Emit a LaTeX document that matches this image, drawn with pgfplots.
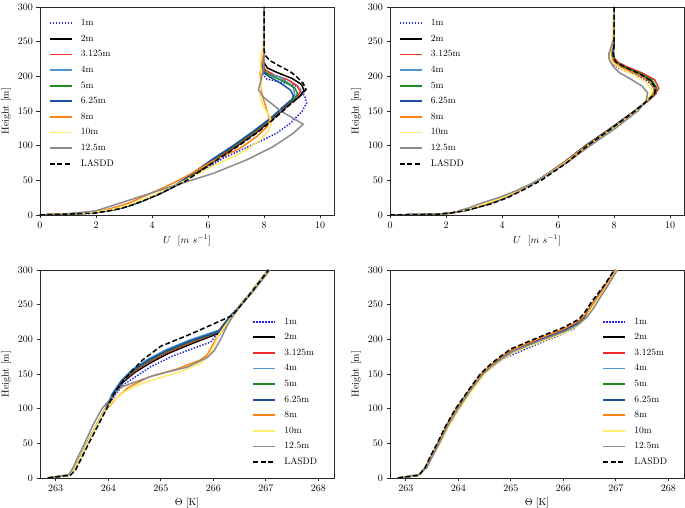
\documentclass[border=0pt]{standalone}
\usepackage{pgfplots}
\pgfplotsset{compat=1.18}

\definecolor{c1}{RGB}{35,35,225}
\definecolor{c3}{RGB}{235,45,45}
\definecolor{c4}{RGB}{80,150,210}
\definecolor{c5}{RGB}{30,140,30}
\definecolor{c6}{RGB}{30,80,160}
\definecolor{c8}{RGB}{255,130,20}
\definecolor{c10}{RGB}{255,235,110}
\definecolor{c12}{RGB}{140,140,140}
\definecolor{frame}{RGB}{40,40,40}

\tikzset{
  s1/.style={c1, dash pattern=on 1.4pt off 1.6pt},
  s2/.style={black},
  s3/.style={c3},
  s4/.style={c4},
  s5/.style={c5},
  s6/.style={c6},
  s8/.style={c8},
  s10/.style={c10},
  s12/.style={c12},
  sL/.style={black, dash pattern=on 5pt off 2.5pt},
}

\pgfplotsset{
  panel/.style={
    scale only axis, width=294pt, height=208pt,
    ymin=0, ymax=300, ytick={0,50,...,300},
    tick pos=left, tick align=outside,
    major tick length=3.5pt,
    tick style={frame, line width=0.6pt},
    axis line style={frame, line width=0.6pt},
    every axis plot/.append style={line width=1.5pt},
    ylabel={Height [m]},
    ticklabel style={font=\fontsize{10}{12}\selectfont},
    label style={font=\fontsize{10}{12}\selectfont},
    legend cell align=left,
    legend image code/.code={\path[draw=none, fill=none] (0pt,0pt) -- (29pt,0pt);
      \draw[##1, line width=1.8pt] (0pt,0pt) -- (11pt,0pt) -- (22pt,0pt);},
    legend style={draw=none, fill=none, inner sep=0pt,
      font=\fontsize{9.5}{11}\selectfont,
      nodes={text height=7.2pt, text depth=2.3pt},
      row sep=2.1pt},
  },
  uax/.style={panel, xmin=0, xmax=10.5, xtick={0,2,...,10},
    xlabel={$U$\ \ $[m\ s^{-1}]$},
    legend style={at={(0.03,0.955)}, anchor=north west}},
  tax/.style={panel, xmin=262.7, xmax=268.3, xtick={263,...,268},
    xlabel={$\Theta$ [K]},
    legend style={at={(0.722,0.785)}, anchor=north west}},
}

\begin{document}
\begin{tikzpicture}

% ---------- top left ----------
\begin{axis}[uax, at={(40pt,293pt)}, anchor=south west]
\addplot[s1] coordinates {(0,0)(1.9,3)(2.4,6)(2.9,10)(3.3,15)(3.7,21)(4.25,30)(4.75,40)(5.2,50)(5.6,60)(6.05,70)(6.55,82)(7.2,94)(7.95,108)(8.45,118)(8.93,132)(9.35,149)(9.52,161)(9.46,171)(9.3,181)(9.1,187)(8.57,192)(8.1,196)(7.98,202)(8.0,210)(8.0,300)};
\addplot[s2] coordinates {(0,0)(1.9,3)(2.4,6)(2.9,10)(3.3,15)(3.7,21)(4.25,30)(4.75,40)(5.2,50)(5.55,60)(6.3,80)(7.05,100)(7.75,120)(8.35,140)(8.9,160)(9.25,170)(9.43,179)(9.35,188)(9.0,197)(8.5,205)(8.12,212)(8.0,220)(8.0,300)};
\addplot[s3] coordinates {(0,0)(1.9,3)(2.4,6)(2.9,10)(3.3,15)(3.7,21)(4.2,30)(4.7,40)(5.15,50)(5.5,60)(6.25,80)(7.0,100)(7.7,120)(8.3,140)(8.85,160)(9.15,169)(9.3,178)(9.2,186)(8.85,195)(8.35,202)(8.05,209)(7.98,215)(8.0,222)(8.0,300)};
\addplot[s4] coordinates {(0,0)(1.9,3)(2.4,6)(2.9,10)(3.3,15)(3.7,21)(4.2,30)(4.7,40)(5.1,50)(5.45,60)(6.15,80)(6.9,100)(7.6,120)(8.25,140)(8.8,160)(9.05,167)(9.1,173)(9.04,185)(8.57,199)(8.04,204)(7.92,212)(7.92,219)(8.0,226)(8.0,300)};
\addplot[s5] coordinates {(0,0)(1.9,3)(2.4,6)(2.9,10)(3.3,15)(3.7,21)(4.2,30)(4.7,40)(5.12,50)(5.48,60)(6.2,80)(6.95,100)(7.65,120)(8.28,140)(8.82,160)(9.1,168)(9.2,175)(9.1,183)(8.75,192)(8.3,200)(8.05,206)(7.95,213)(7.97,220)(8.0,226)(8.0,300)};
\addplot[s6] coordinates {(0,0)(1.9,3)(2.4,6)(2.9,10)(3.3,15)(3.7,21)(4.2,30)(4.7,40)(5.1,50)(5.45,60)(6.15,80)(6.9,100)(7.6,120)(8.25,140)(8.8,160)(9.0,167)(9.05,172)(8.95,180)(8.6,190)(8.2,199)(7.97,206)(7.92,213)(7.97,220)(8.0,226)(8.0,300)};
\addplot[s8] coordinates {(0,0)(1.8,3.5)(2.3,7)(2.75,12)(3.15,17)(3.55,24)(4.05,33)(4.55,42)(5.0,51)(5.5,62)(6.1,76)(6.6,86)(7.14,96)(7.74,113)(8.1,127)(8.21,137)(8.1,151)(7.92,175)(7.86,204)(7.98,233)(8.0,300)};
\addplot[s10] coordinates {(0,0)(1.8,3)(2.3,6)(2.8,10)(3.2,15)(3.6,21)(4.15,30)(4.65,40)(5.2,50)(5.65,60)(6.2,71)(6.79,82)(7.38,94)(7.86,108)(8.15,120)(8.27,132)(8.21,142)(7.98,156)(7.86,171)(7.92,195)(7.86,224)(7.95,240)(8.0,255)(8.0,300)};
\addplot[s12] coordinates {(0,0)(0.95,1.4)(2.0,6)(2.62,14)(3.0,19)(3.57,26.5)(4.5,38.5)(5.24,48)(6.19,60)(7.38,79.5)(8.33,98.7)(9.05,118)(9.4,131)(8.6,150)(7.98,170)(7.8,181)(7.9,195)(7.97,210)(8.0,222)(8.0,300)};
\addplot[sL] coordinates {(0,0)(1.9,2.5)(2.4,5.5)(2.9,9.5)(3.3,14.5)(3.7,20.5)(4.25,30)(4.75,40)(5.25,50)(5.6,60)(6.35,80)(7.1,100)(7.8,120)(8.4,140)(8.95,160)(9.3,172)(9.5,181)(9.4,190)(9.15,200)(8.93,207)(8.55,215)(8.2,223)(8.05,230)(8.0,238)(8.0,300)};
\legend{1m,2m,3.125m,4m,5m,6.25m,8m,10m,12.5m,LASDD}
\end{axis}

% ---------- top right ----------
\begin{axis}[uax, at={(390pt,293pt)}, anchor=south west]
\addplot[s1] coordinates {(0,0)(1.7,1)(2.2,3)(2.6,6)(3.0,10)(3.5,16)(4.1,25)(4.6,35)(5.3,50)(6.2,75)(7.0,100)(7.9,125)(8.75,150)(9.2,165)(9.5,175)(9.5,182)(9.2,193)(8.7,203)(8.2,211)(7.95,218)(7.98,230)(8.0,245)(8.0,300)};
\addplot[s2] coordinates {(0,0)(1.7,1)(2.2,3)(2.6,6)(3.0,10)(3.5,16)(4.1,25)(4.6,35)(5.3,50)(6.2,75)(7.0,100)(7.9,125)(8.75,150)(9.2,165)(9.45,175)(9.5,184)(9.3,195)(8.85,205)(8.3,214)(8.0,222)(7.95,232)(8.0,245)(8.0,300)};
\addplot[s3] coordinates {(0,0)(1.7,1)(2.2,3)(2.6,6)(3.0,10)(3.5,16)(4.1,25)(4.6,35)(5.3,50)(6.2,75)(7.0,100)(7.9,125)(8.75,150)(9.2,164)(9.45,173)(9.6,183)(9.45,195)(9.0,205)(8.5,213)(8.15,220)(7.98,228)(7.97,240)(8.0,252)(8.0,300)};
\addplot[s4] coordinates {(0,0)(1.7,1)(2.2,3)(2.6,6)(3.0,10)(3.5,16)(4.1,25)(4.6,35)(5.3,50)(6.2,75)(6.98,100)(7.88,125)(8.73,150)(9.18,165)(9.4,174)(9.45,182)(9.25,194)(8.8,204)(8.3,212)(8.0,220)(7.93,230)(7.98,245)(8.0,300)};
\addplot[s5] coordinates {(0,0)(1.7,1)(2.2,3)(2.6,6)(3.0,10)(3.5,16)(4.1,25)(4.6,35)(5.3,50)(6.2,75)(7.0,100)(7.9,125)(8.75,150)(9.2,165)(9.45,174)(9.52,183)(9.35,195)(8.9,205)(8.4,213)(8.05,221)(7.95,231)(7.98,245)(8.0,300)};
\addplot[s6] coordinates {(0,0)(1.7,1)(2.2,3)(2.6,6)(3.0,10)(3.5,16)(4.1,25)(4.6,35)(5.28,50)(6.18,75)(6.98,100)(7.88,125)(8.73,150)(9.18,165)(9.4,174)(9.45,182)(9.25,194)(8.8,204)(8.3,212)(8.0,220)(7.93,230)(7.98,245)(8.0,300)};
\addplot[s8] coordinates {(0,0)(1.8,1)(2.25,3)(2.6,6)(2.95,10)(3.45,16)(4.05,25)(4.6,35)(5.3,50)(6.2,75)(7.02,100)(7.92,125)(8.75,150)(9.2,165)(9.4,175)(9.45,183)(9.25,194)(8.8,204)(8.3,212)(7.98,221)(7.88,232)(7.95,245)(8.0,300)};
\addplot[s10] coordinates {(0,0)(1.85,1)(2.3,3)(2.55,6)(2.9,10)(3.35,16)(4.0,25)(4.55,35)(5.3,50)(6.25,75)(7.1,100)(8.0,125)(8.8,150)(9.15,165)(9.3,173)(9.35,181)(9.1,193)(8.65,203)(8.2,212)(7.92,221)(7.85,232)(7.93,248)(8.0,300)};
\addplot[s12] coordinates {(0,0)(1.9,1)(2.4,4)(2.45,6)(2.8,10)(3.25,17)(3.95,26)(4.5,35)(5.3,50)(6.3,75)(7.15,100)(8.05,125)(8.85,150)(9.15,165)(9.2,176)(9.0,186)(8.6,196)(8.2,205)(7.95,215)(7.82,225)(7.82,233)(7.92,245)(8.0,255)(8.0,300)};
\addplot[sL] coordinates {(0,0)(1.7,1)(2.2,3)(2.65,6)(3.05,10)(3.6,16)(4.2,25)(4.7,35)(5.4,50)(6.3,75)(7.05,100)(7.92,125)(8.75,150)(9.2,165)(9.45,175)(9.48,183)(9.3,194)(8.9,204)(8.4,213)(8.05,221)(7.98,232)(8.0,245)(8.0,300)};
\legend{1m,2m,3.125m,4m,5m,6.25m,8m,10m,12.5m,LASDD}
\end{axis}

% ---------- bottom left ----------
\begin{axis}[tax, at={(40pt,30pt)}, anchor=south west]
\addplot[s1] coordinates {(262.85,0)(263.0,1.5)(263.25,4)(263.35,12)(263.45,27)(263.6,50)(263.77,75)(263.95,100)(264.05,110)(264.15,122)(264.3,135)(264.5,145)(264.8,160)(265.2,175)(265.55,185)(265.95,196)(266.1,210)(266.25,226)(266.4,240)(266.7,265)(267.05,300)};
\addplot[s2] coordinates {(262.85,0)(263.0,1.5)(263.25,4)(263.35,12)(263.45,27)(263.6,50)(263.77,75)(263.95,100)(264.1,120)(264.28,138)(264.5,152)(264.8,166)(265.15,180)(265.6,194)(266.08,208)(266.2,220)(266.35,234)(266.42,240)(266.72,268)(267.05,300)};
\addplot[s3] coordinates {(262.85,0)(263.0,1.5)(263.25,4)(263.35,12)(263.45,27)(263.6,50)(263.77,75)(263.95,100)(264.1,121)(264.27,139)(264.48,153)(264.78,168)(265.15,182)(265.6,196)(266.08,210)(266.2,222)(266.35,235)(266.42,240)(266.72,268)(267.05,300)};
\addplot[s4] coordinates {(262.85,0)(263.0,1.5)(263.25,4)(263.35,12)(263.45,27)(263.6,50)(263.77,75)(263.95,100)(264.08,122)(264.25,141)(264.45,156)(264.75,171)(265.1,185)(265.55,199)(266.14,214)(266.25,225)(266.35,236)(266.42,241)(266.72,268)(267.05,300)};
\addplot[s5] coordinates {(262.85,0)(263.0,1.5)(263.25,4)(263.35,12)(263.45,27)(263.6,50)(263.77,75)(263.95,100)(264.1,121)(264.27,140)(264.47,154)(264.77,169)(265.13,183)(265.58,197)(266.1,211)(266.22,223)(266.35,235)(266.42,240)(266.72,268)(267.05,300)};
\addplot[s6] coordinates {(262.85,0)(263.0,1.5)(263.25,4)(263.35,12)(263.45,27)(263.6,50)(263.77,75)(263.95,100)(264.08,121)(264.26,140)(264.46,155)(264.76,170)(265.12,184)(265.57,198)(266.12,212)(266.23,224)(266.35,235)(266.42,240)(266.72,268)(267.05,300)};
\addplot[s8] coordinates {(262.85,0)(263.0,1.5)(263.25,4)(263.35,12)(263.45,27)(263.6,50)(263.77,75)(263.92,95)(264.0,102)(264.15,115)(264.37,130)(264.75,145)(265.3,157)(265.75,170)(265.88,177)(266.05,200)(266.25,220)(266.4,236)(266.72,268)(267.05,300)};
\addplot[s10] coordinates {(262.85,0)(263.0,1.5)(263.25,4)(263.35,12)(263.45,27)(263.6,50)(263.77,75)(263.95,100)(264.1,112)(264.3,124)(264.6,135)(265.0,145)(265.4,154)(265.75,165)(265.9,175)(266.02,192)(266.12,208)(266.25,222)(266.4,238)(266.72,268)(267.05,300)};
\addplot[s12] coordinates {(262.85,0)(263.0,2)(263.25,5)(263.33,15)(263.42,30)(263.55,50)(263.7,75)(263.88,100)(264.05,115)(264.24,131)(264.87,148)(265.51,160)(265.89,174)(266.02,184)(266.14,200)(266.28,222)(266.42,240)(266.75,268)(267.08,300)};
\addplot[sL] coordinates {(262.85,0)(263.0,1.5)(263.28,4)(263.38,12)(263.48,27)(263.63,50)(263.8,75)(263.97,100)(264.1,120)(264.25,137)(264.4,150)(264.65,170)(265.0,190)(265.55,207)(266.0,222)(266.35,234)(266.45,242)(266.75,270)(267.05,300)};
\legend{1m,2m,3.125m,4m,5m,6.25m,8m,10m,12.5m,LASDD}
\end{axis}

% ---------- bottom right ----------
\begin{axis}[tax, at={(390pt,30pt)}, anchor=south west]
\addplot[s1] coordinates {(262.85,0)(263.0,1.5)(263.25,4)(263.38,15)(263.48,30)(263.62,50)(263.78,75)(263.97,100)(264.2,125)(264.45,148)(264.65,160)(264.85,172)(265.1,180)(265.5,193)(265.9,205)(266.2,215)(266.35,228)(266.5,245)(266.62,258)(266.78,275)(267.0,300)};
\addplot[s2] coordinates {(262.85,0)(263.0,1.5)(263.25,4)(263.38,15)(263.48,30)(263.62,50)(263.78,75)(263.97,100)(264.2,125)(264.45,150)(264.62,162)(264.8,172)(265.0,182)(265.5,198)(266.0,212)(266.25,222)(266.4,232)(266.5,245)(266.62,258)(266.78,275)(267.0,300)};
\addplot[s3] coordinates {(262.85,0)(263.0,1.5)(263.25,4)(263.38,15)(263.48,30)(263.62,50)(263.78,75)(263.97,100)(264.2,125)(264.45,150)(264.62,162)(264.8,172)(265.0,183)(265.5,199)(266.0,213)(266.25,223)(266.4,233)(266.5,245)(266.62,258)(266.78,275)(267.0,300)};
\addplot[s4] coordinates {(262.85,0)(263.0,1.5)(263.25,4)(263.38,15)(263.48,30)(263.62,50)(263.78,75)(263.97,100)(264.2,125)(264.45,150)(264.62,162)(264.8,172)(265.0,182)(265.5,197)(266.0,211)(266.25,221)(266.4,232)(266.5,245)(266.63,258)(266.79,275)(267.0,300)};
\addplot[s5] coordinates {(262.85,0)(263.0,1.5)(263.25,4)(263.38,15)(263.48,30)(263.62,50)(263.78,75)(263.97,100)(264.2,125)(264.45,150)(264.62,162)(264.8,172)(265.0,182)(265.5,198)(266.0,212)(266.25,222)(266.4,232)(266.5,245)(266.62,258)(266.78,275)(267.0,300)};
\addplot[s6] coordinates {(262.85,0)(263.0,1.5)(263.25,4)(263.38,15)(263.48,30)(263.62,50)(263.78,75)(263.97,100)(264.2,125)(264.45,150)(264.62,162)(264.8,172)(265.0,182)(265.5,198)(266.0,212)(266.25,222)(266.4,232)(266.5,245)(266.62,258)(266.78,275)(267.0,300)};
\addplot[s8] coordinates {(262.85,0)(263.0,1.5)(263.25,4)(263.38,15)(263.48,30)(263.62,50)(263.78,75)(263.97,100)(264.2,125)(264.45,151)(264.62,163)(264.8,174)(265.0,184)(265.5,200)(266.0,215)(266.3,227)(266.45,238)(266.55,250)(266.7,265)(266.85,282)(267.0,300)};
\addplot[s10] coordinates {(262.85,0)(263.0,1.5)(263.25,4)(263.4,15)(263.5,30)(263.65,50)(263.82,75)(264.02,100)(264.25,125)(264.5,150)(264.68,162)(264.85,172)(265.05,181)(265.55,196)(266.05,210)(266.3,221)(266.45,232)(266.55,245)(266.68,260)(266.82,275)(267.02,300)};
\addplot[s12] coordinates {(262.85,0)(263.0,2)(263.25,5)(263.4,15)(263.5,30)(263.64,50)(263.8,75)(264.0,100)(264.22,125)(264.47,150)(264.65,162)(264.83,172)(265.03,182)(265.52,197)(266.02,211)(266.28,221)(266.45,232)(266.58,245)(266.7,260)(266.83,275)(267.03,300)};
\addplot[sL] coordinates {(262.85,0)(263.0,1.5)(263.25,4)(263.37,15)(263.46,30)(263.6,50)(263.76,75)(263.95,100)(264.18,125)(264.42,150)(264.6,163)(264.78,174)(265.0,186)(265.5,202)(266.0,217)(266.3,229)(266.42,240)(266.52,252)(266.65,265)(266.8,280)(266.97,300)};
\legend{1m,2m,3.125m,4m,5m,6.25m,8m,10m,12.5m,LASDD}
\end{axis}

\pgfresetboundingbox
\path[use as bounding box] (0pt,0pt) rectangle (685pt,508pt);
\end{tikzpicture}
\end{document}
